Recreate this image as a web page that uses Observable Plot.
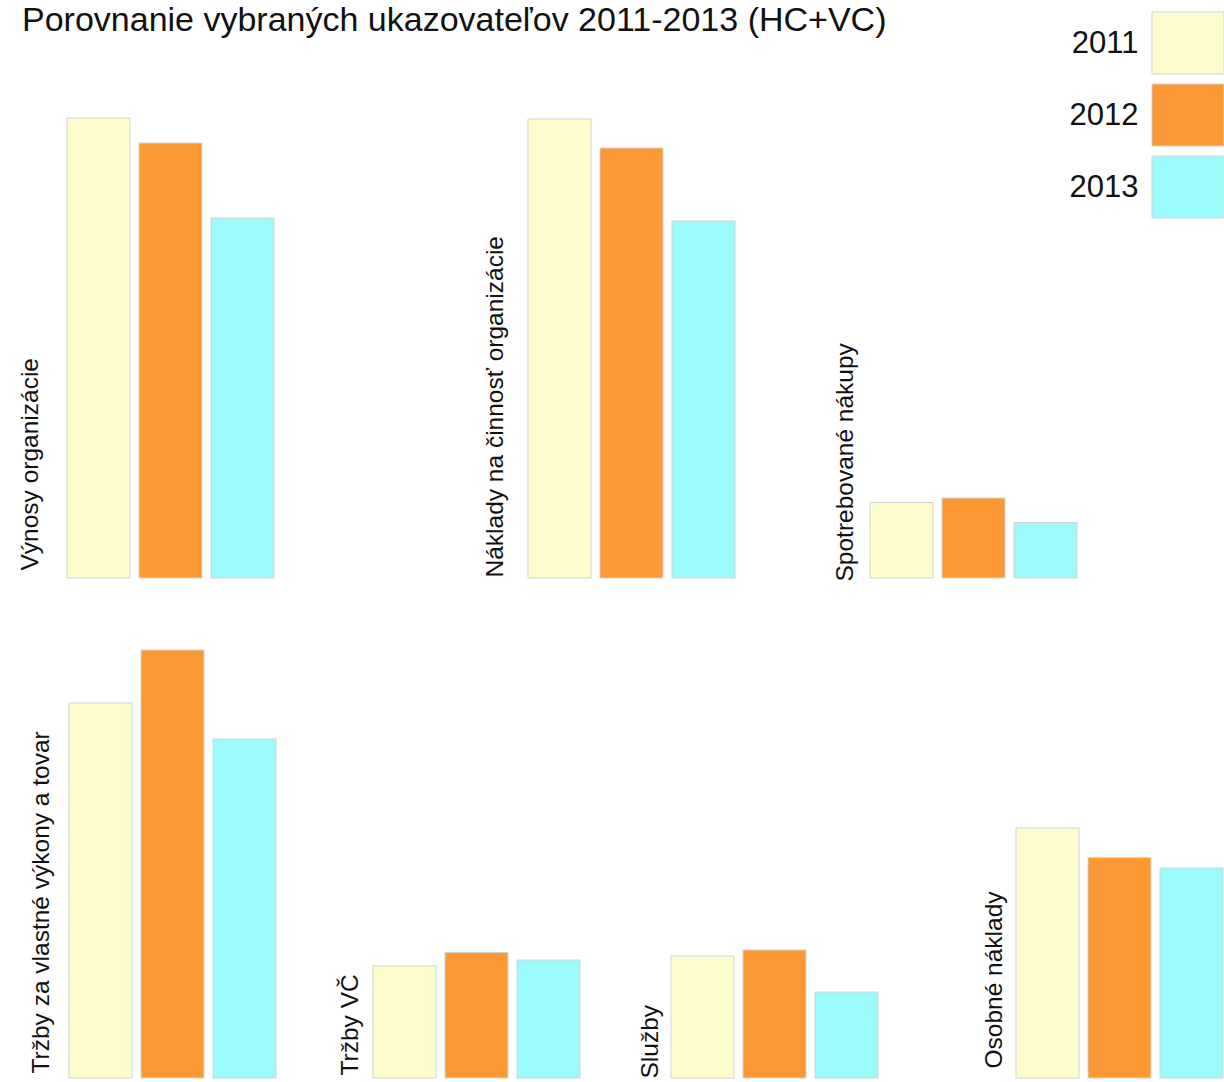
<!DOCTYPE html>
<html>
<head>
<meta charset="utf-8">
<script src="https://cdn.jsdelivr.net/npm/d3@7"></script>
<script src="https://cdn.jsdelivr.net/npm/@observablehq/plot@0.6"></script>
<style>
  html, body { margin: 0; padding: 0; background: #fff; }
  #chart { position: relative; width: 1224px; height: 1082px; overflow: hidden; background: #fff;
           font-family: "Liberation Sans", Arial, sans-serif; }
  #title { position: absolute; left: 22px; top: 0px; font-size: 34px; line-height: 38px; color: #111; white-space: nowrap; }
  .grp { position: absolute; }
</style>
</head>
<body>
<div id="chart">
  <div id="title"></div>
</div>
<script>
// ---- data ----
const title = "Porovnanie vybraných ukazovateľov 2011-2013 (HC+VC)";
const years = ["2011", "2012", "2013"];
const categories = [
  "Výnosy organizácie",
  "Náklady na činnosť organizácie",
  "Spotrebované nákupy",
  "Tržby za vlastné výkony a tovar",
  "Tržby VČ",
  "Služby",
  "Osobné náklady"
];
const values2011 = [460, 459, 75.5, 375, 112, 122, 250];
const values2012 = [435, 430, 80, 428, 125.5, 128, 220.5];
const values2013 = [360, 357, 55.5, 339, 118, 86, 210];
const colors = ["#FEFDCD", "#FB9935", "#9BFBFB"];

// ---- layout (positions only) ----
const layout = [
  {left: 66,  row: 0, dx: -29, dy: -8},
  {left: 527, row: 0, dx: -25, dy: -1},
  {left: 869, row: 0, dx: -17, dy: 3},
  {left: 68,  row: 1, dx: -20, dy: -5},
  {left: 372, row: 1, dx: -15, dy: -3},
  {left: 670, row: 1, dx: -13, dy: 0},
  {left: 1015,row: 1, dx: -14, dy: -10}
];
const baselines = [578.3, 1078.3];
const yMax = 470;
const frameW = 208;
const mLeft = 60;

const series = [values2011, values2012, values2013];
const rows = categories.flatMap((c, i) => years.map((y, j) => ({category: c, year: y, value: series[j][i]})));

const chart = document.getElementById("chart");
document.getElementById("title").textContent = title;

categories.forEach((cat, i) => {
  const L = layout[i];
  const data = rows.filter(d => d.category === cat);
  const svg = Plot.plot({
    width: mLeft + frameW,
    height: yMax,
    marginLeft: mLeft, marginRight: 0, marginTop: 0, marginBottom: 0,
    style: {background: "transparent", overflow: "visible", fontFamily: "Liberation Sans, Arial, sans-serif"},
    x: {type: "band", domain: years, paddingInner: 0.131, paddingOuter: 0, axis: null},
    y: {domain: [0, yMax], axis: null},
    color: {domain: years, range: colors},
    marks: [
      Plot.barY(data, {x: "year", y: "value", fill: "year", stroke: "#d4d4d4", strokeWidth: 1}),
      Plot.text([cat], {frameAnchor: "bottom-left", text: d => d, rotate: -90, textAnchor: "start",
        lineAnchor: "bottom", dx: L.dx, dy: L.dy, fontSize: 24.5, fill: "#111"})
    ]
  });
  svg.classList.add("grp");
  svg.style.left = (L.left - mLeft) + "px";
  svg.style.top = (baselines[L.row] - yMax) + "px";
  chart.appendChild(svg);
});

// legend
const legTop = 11.7, legBottom = 218.3, legH = 230, legML = 100;
const legend = Plot.plot({
  width: legML + 72,
  height: legH,
  marginLeft: legML, marginRight: 0, marginTop: legTop, marginBottom: legH - legBottom,
  style: {background: "transparent", overflow: "visible", fontFamily: "Liberation Sans, Arial, sans-serif", fontSize: "31px", color: "#111"},
  y: {type: "band", domain: years, paddingInner: 0.142, paddingOuter: 0, tickSize: 0, tickPadding: 14, label: null},
  color: {domain: years, range: colors},
  marks: [
    Plot.cell(years, {y: d => d, fill: d => d, stroke: "#d4d4d4", strokeWidth: 1})
  ]
});
legend.classList.add("grp");
legend.style.left = (1151.5 - legML) + "px";
legend.style.top = "0px";
chart.appendChild(legend);
</script>
</body>
</html>
